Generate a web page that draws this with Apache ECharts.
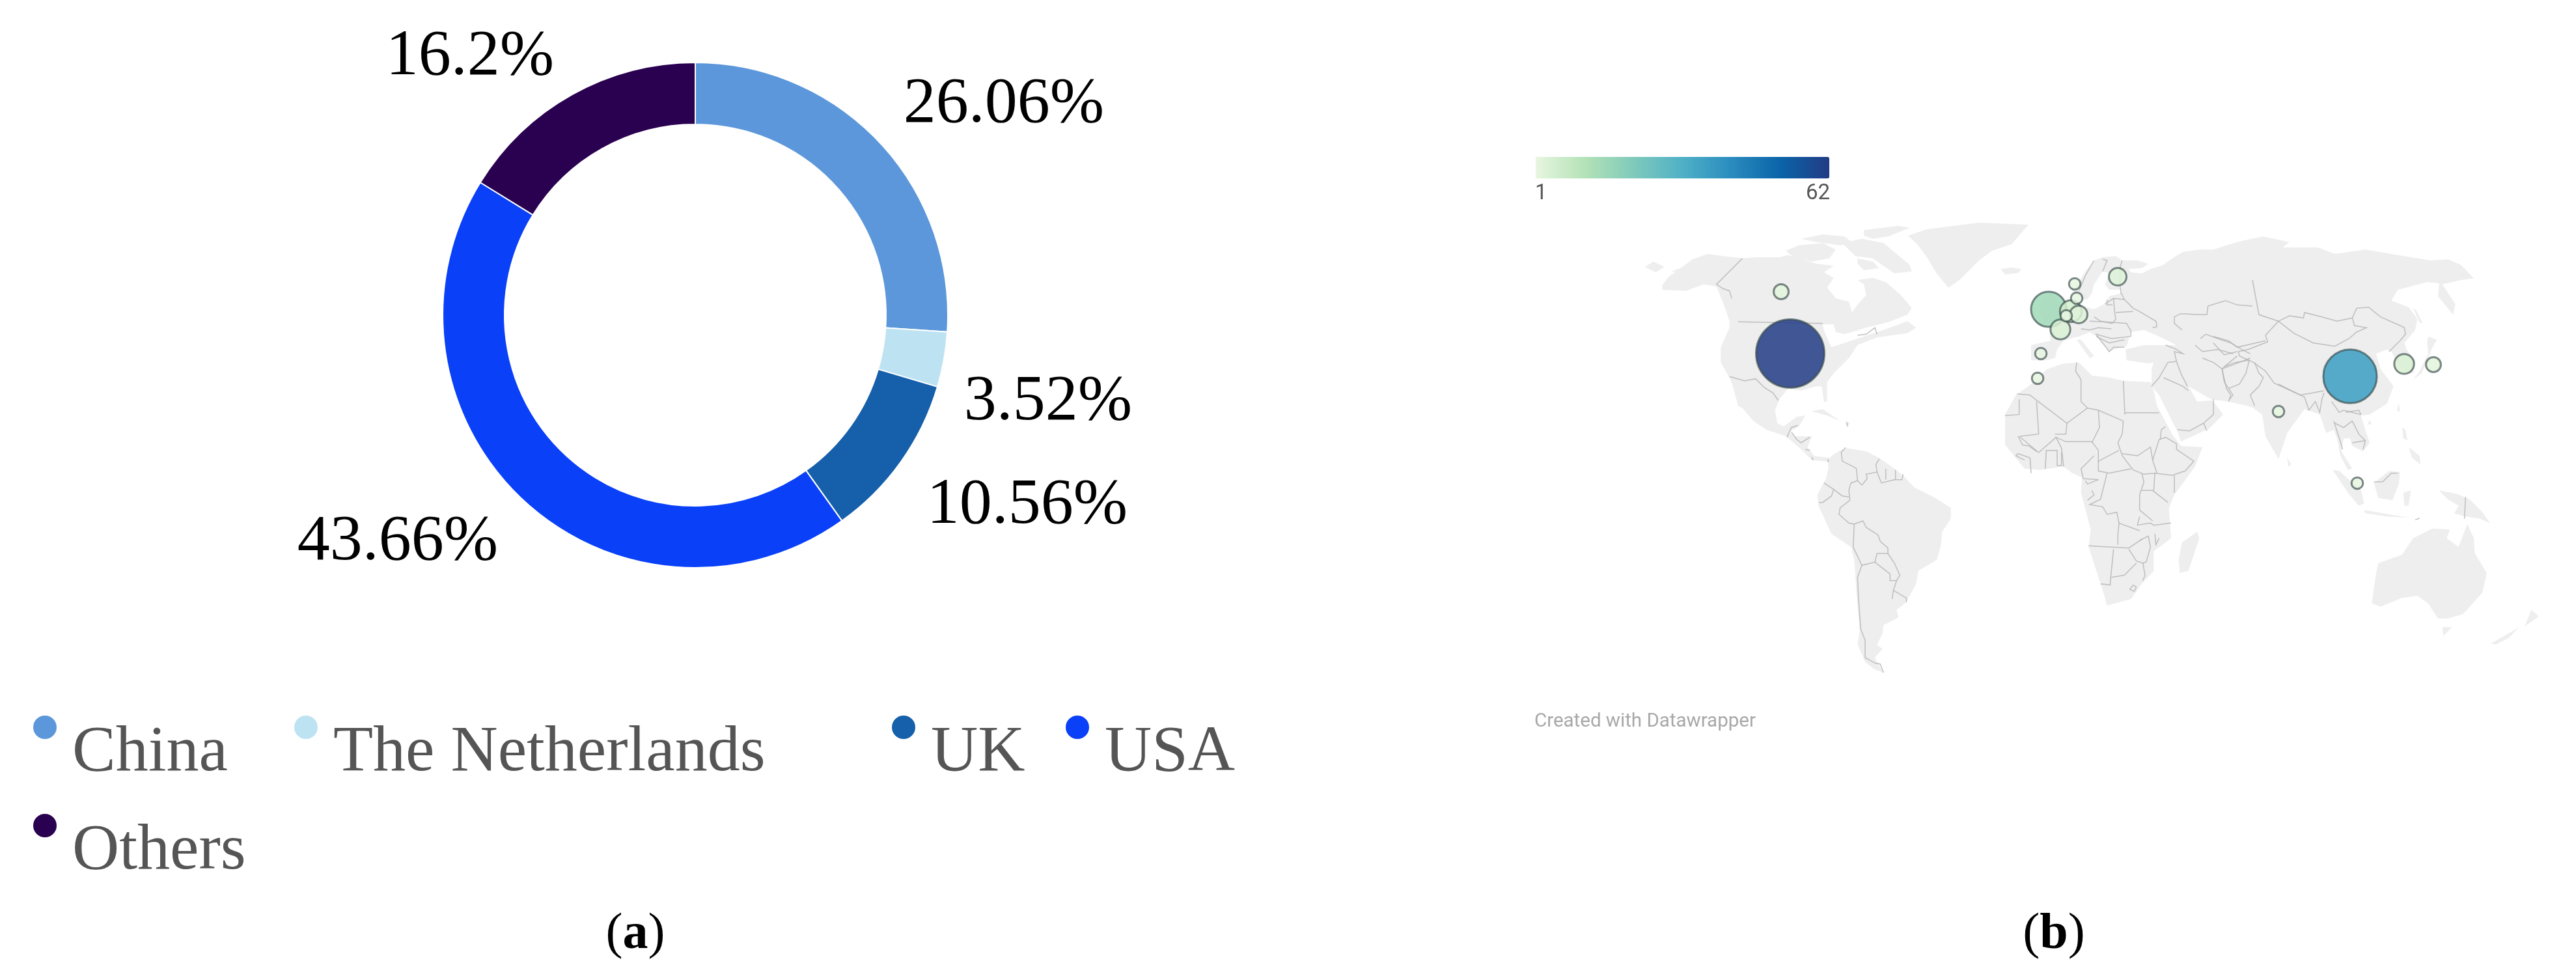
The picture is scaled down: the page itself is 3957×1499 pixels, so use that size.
<!DOCTYPE html>
<html>
<head>
<meta charset="utf-8">
<title>Publications by country</title>
<script src="https://cdn.jsdelivr.net/npm/echarts@6/dist/echarts.min.js"></script>
<style>html,body{margin:0;padding:0;background:#fff}#chart{width:3957px;height:1499px}</style>
</head>
<body>
<div id="chart"></div>
<script>
// ---------- donut data ----------
const countries = ['China', 'The Netherlands', 'UK', 'USA', 'Others'];
const shares = [26.06, 3.52, 10.56, 43.66, 16.2];
const shareColors = ['#5b97da', '#bde3f2', '#155fab', '#0a40f7', '#2a0050'];
// ---------- bubble data ----------
const bubbleNames = ['UK','Netherlands','Germany','France','Belgium','Denmark','Sweden','Finland','Spain','Morocco','Canada','USA','China','South Korea','Japan','India','Singapore'];
const bubbleCounts = [15,5,3,4,1,1,1,3,1,1,2,62,37,4,2,1,1];
const bubbleX = [3147,3181,3193,3165,3174,3190,3187,3253,3135,3130,2736,2750,3610,3693,3738,3500,3621];
const bubbleY = [475,478,483,506,485,458,436,425,543,581,448,543,578,559,560,632,742];
const colorStops = ['#e8f6e0','#b4e2b6','#7fcabb','#4fb0c6','#2a8cbe','#0a64a8','#223b85'];
const scaleTicks = ['1','62'];
// ---------- base map outlines ----------
const Z5=[2500,330],Z6=[2680,620],Z7=[3060,380],Z8=[3060,620],Z9=[3400,340],Z10=[3500,680],P=[0,0,1];
function tr(o,f){const s=o[2]||3,r=[];for(let i=0;i<f.length;i+=2)r.push([o[0]+f[i]/s,o[1]+f[i+1]/s]);return r;}
const northAmerica = tr(Z5,[160,325,190,285,260,235,300,205,370,180,440,190,530,200,600,195,700,195,740,185,800,205,870,225,950,235,905,265,950,290,920,335,960,385,1020,400,1035,450,1055,420,1100,370,1090,320,1060,300,1130,290,1190,310,1260,370,1310,430,1290,460,1200,495,1100,520,1000,550,960,540,950,505,900,505,905,530,930,590,940,610,1060,570,1180,530,1290,490,1330,520,1290,545,1150,565,1060,600,1020,660,950,730,920,770,920,860,905,860,895,790,870,790,800,810,740,800,700,850,680,900,690,960,720,975,780,930,820,925,790,975,745,1000,770,1020,850,1020,830,1070,860,1110,930,1120,960,1125,950,1140,900,1135,850,1130,800,1080,730,1020,640,990,580,950,530,890,470,750,430,680,430,610,470,520,470,490,450,430,410,330,350,320,270,350,160,345]);
const southAmerica = tr(Z6,[385,265,400,240,440,215,470,205,560,220,620,250,690,300,730,330,780,385,870,430,950,480,950,530,910,590,905,650,885,720,800,770,790,830,745,915,700,950,710,985,640,1020,635,1060,610,1110,635,1130,600,1170,610,1190,640,1240,600,1225,555,1190,520,1110,530,1050,515,870,505,720,490,660,400,600,340,470,335,420,375,345,385,300]);
const africa = tr(Z8,[60,50,110,-40,180,-90,255,-160,330,-185,400,-190,460,-130,540,-120,610,-105,730,-100,745,-60,760,10,830,140,870,195,970,200,935,290,840,420,815,480,825,620,745,680,745,770,690,830,640,900,530,930,510,860,445,660,455,580,410,410,415,340,370,320,330,290,220,305,150,300,60,190]);
const eurasia = [].concat(
  tr(Z7,[180,450,270,430,265,395,285,325,330,275,380,270,395,235,410,270,470,285,530,255,540,225,600,210,590,195,540,195,520,170,545,120,510,110,470,170,460,210,440,240,415,240,385,215,365,190,400,160,430,110,470,60,510,45,570,40,600,60,670,60,720,75,690,95,630,100,640,115,690,120,730,100,790,80,830,50,880,20,960,10]),
  tr(Z9,[0,130,60,110,130,90,230,70,350,95,320,120,480,120,560,150,700,130,850,155,1000,180,1080,175,1140,200,1200,262,1130,272,1055,290,1115,380,1105,430,1035,345,1040,285,985,280,850,315,820,365,900,395,940,450,930,500,880,560,890,590,930,640,920,700,880,700,840,640,820,600,800,590,750,610,770,680,830,760,800,840,720,890,680,895,700,960,720,1020,690,1060,640,1035,630,1000,600,1000,590,1060,640,1140,620,1145,585,1080,570,1000,555,960,520,975,490,890,420,865,340,975,300,1095,240,990,225,890,175,855,70,830,0,810]),
  tr(Z7,[1090,710,1010,700,950,665,905,640,945,710,1010,705,1020,710,1065,770,1000,835,870,895,855,850,770,680,735,640,735,560,745,530,720,535,620,520,615,470,700,450,800,450,850,450,770,410,700,380,640,390,620,455,560,470,540,480,480,410,450,390,400,410,380,415,330,430,300,470,290,510,250,520,180,520])
);
const caspian = tr(Z7,[880,385,925,378,905,415,945,490,950,530,905,520,875,460]);
const islands = [
  tr(P,[2931,362,2960,352,3040,342,3116,345,3090,375,3060,385,3040,400,3010,430,2993,442,2975,420,2960,395,2945,375]),
  tr(Z7,[40,100,90,92,135,100,120,118,60,125]),
  tr(Z7,[230,240,270,205,310,250,300,330,240,345,215,300]),
  tr(Z7,[390,425,410,425,470,500,450,510]),
  tr(Z5,[730,165,790,140,900,130,960,160,930,200,850,215,770,200]),
  tr(Z5,[800,110,900,90,1000,100,1040,130,980,140,870,125]),
  tr(Z5,[1090,70,1250,50,1300,60,1200,100,1130,110,1090,95]),
  tr(Z5,[990,130,1080,110,1180,130,1300,230,1310,260,1230,270,1130,200,1050,190]),
  tr(Z5,[1060,200,1130,215,1160,245,1090,255,1060,225]),
  tr(Z5,[80,240,120,215,170,240,130,265]),
  tr(Z5,[200,260,260,240,250,265]),
  tr(Z5,[480,770,500,770,530,890,510,880]),
  tr(Z5,[850,905,900,895,980,950,920,925]),
  tr(Z5,[1005,950,1025,960,1010,975]),
  tr(Z8,[875,640,945,590,955,620,905,770,865,780,860,720]),
  tr(Z9,[990,530,1030,545,1010,580,960,700,920,730,950,690,990,610,985,560]),
  tr(Z9,[920,400,935,410,965,470,950,465]),
  tr(Z9,[855,840,860,880,845,870]),
  tr(Z9,[870,950,885,960,895,1010,875,1000]),
  tr(Z9,[900,1040,950,1080,955,1120,915,1090]),
  tr(Z9,[340,1090,360,1120,345,1130]),
  tr(Z9,[720,915,730,935,710,935]),
  tr(Z10,[250,125,280,130,380,220,395,280,370,290,320,230]),
  tr(Z10,[395,310,480,325,600,345,500,340,400,325]),
  tr(Z10,[440,185,510,130,560,135,555,190,525,265,460,255]),
  tr(Z10,[575,230,610,220,600,290,580,290]),
  tr(Z10,[740,220,820,235,880,260,940,320,975,370,930,350,860,340,810,325,830,290,780,260]),
  tr(Z10,[430,740,450,600,460,555,570,515,620,440,710,395,790,400,775,440,830,480,870,375,900,440,905,510,960,600,940,690,850,790,780,810,735,810,690,740,640,705,570,715,470,755]),
  tr(Z10,[755,850,800,850,760,890]),
  tr(Z10,[980,925,1110,850,1060,900,1000,930]),
  tr(Z10,[1135,845,1165,770,1200,800])
];
const borders = [
  // North America
  tr(Z5,[510,493,900,500]),tr(Z5,[530,200,410,320,440,340,470,350,480,385]),tr(Z5,[1060,555,1100,550,1140,520,1150,550]),tr(Z5,[470,745,540,765,590,755,630,795,670,820,695,855]),
  // Central America
  tr(Z6,[195,155,215,110,245,100]),tr(Z6,[215,130,240,165,260,180,300,155]),tr(Z6,[280,210,300,215]),tr(Z6,[310,245,315,260]),tr(Z6,[385,255,385,270]),tr(Z6,[470,85,475,105]),
  // South America
  tr(Z6,[465,202,445,225,450,265,500,290,515,300,520,355,490,365,480,400,485,445]),tr(Z6,[520,355,540,375,565,345,560,325,610,315,605,280,620,255]),tr(Z6,[610,315,630,365,690,350,725,350,730,325]),tr(Z6,[650,350,650,300]),tr(Z6,[695,350,695,305]),tr(Z6,[365,365,410,395,450,425,480,430]),tr(Z6,[410,395,400,425,360,455,342,455]),tr(Z6,[485,445,440,480,435,510,480,550,505,555,545,540,560,570,615,605,625,635,660,665,660,690,610,690,600,730]),tr(Z6,[505,555,500,660,540,745,580,735,600,730,670,785,670,815,700,815,715,790,690,735,660,690]),tr(Z6,[700,815,685,860,680,900]),tr(Z6,[685,860,745,895,745,915]),tr(Z6,[540,745,520,800,525,900,535,1040,555,1090,555,1170,600,1195,625,1200,640,1240]),
  // North Africa and Arabia
  tr(Z7,[390,530,385,570,410,610,410,710,440,740]),tr(Z7,[605,615,612,770]),tr(Z7,[612,762,770,762]),tr(Z7,[440,740,345,810,200,700,175,680,115,675]),tr(Z7,[345,810,340,860,290,860]),tr(Z7,[440,740,490,750,605,800]),tr(Z7,[490,750,495,830,460,900]),tr(Z7,[205,710,215,860,130,870]),tr(Z7,[125,700,125,770,60,775]),
  tr(Z7,[735,640,770,600,810,530,850,525]),tr(Z7,[790,600,880,640,905,660]),tr(Z7,[850,525,870,580,900,640]),tr(Z7,[1020,700,1020,770,975,810,910,845,855,840]),tr(Z7,[975,810,990,845]),
  tr(Z7,[800,450,850,470,880,490,840,480,850,525]),tr(Z7,[970,510,1020,530,1060,560,1070,620,1090,650,1110,680,1095,700]),tr(Z7,[1060,560,1190,510]),tr(Z7,[935,450,970,480,1040,470,1110,490]),tr(Z7,[960,420,985,400,1040,420,1100,440,1150,470,1190,490]),
  // Central and southern Africa
  tr(Z8,[605,80,600,140,580,180,600,240,650,305,700,325,750,320,830,330,890,310,930,265,850,210,850,185,800,155,770,165,740,260,760,320]),tr(Z8,[775,165,780,120,800,105]),tr(Z8,[600,230,670,240,730,200,740,260]),tr(Z8,[460,175,490,215,490,265,585,215]),tr(Z8,[490,265,490,310,540,320,640,300]),tr(Z8,[460,175,340,175,295,155,320,205,330,290]),tr(Z8,[295,155,215,225,125,150]),tr(Z8,[205,220,170,195,140,190,120,150]),tr(Z8,[180,320,175,250,120,230,110,240,150,260]),tr(Z8,[245,300,250,215,300,215,300,285,320,285,320,225]),tr(Z8,[470,240,410,300,420,345,490,350]),tr(Z8,[530,320,500,440,450,465,510,475,530,510,575,500,585,550,680,585]),tr(Z8,[430,355,440,370,490,350]),tr(Z8,[440,445,470,420,460,400]),tr(Z8,[690,320,700,360,680,420,680,490,740,540]),tr(Z8,[690,400,740,400,810,455]),tr(Z8,[750,320,745,400]),tr(Z8,[840,330,840,410]),tr(Z8,[585,550,580,600,580,650]),tr(Z8,[445,655,630,665,690,625]),tr(Z8,[680,520,670,560,730,550,745,560,825,550]),tr(Z8,[680,630,720,610,730,660,710,730]),tr(Z8,[630,670,665,725,695,735,710,730]),tr(Z8,[560,670,545,820,545,835,500,830]),tr(Z8,[665,735,610,790,550,800]),tr(Z8,[695,735,705,790,695,815]),tr(Z8,[750,600,755,650,770,620]),tr(Z8,[650,835,635,855,655,865,665,845,650,835]),
  // Europe
  tr(Z7,[520,260,560,235,610,240,650,280,670,290,755,340,760,365,740,370]),tr(Z7,[560,235,565,300,570,330,555,350]),tr(Z7,[570,300,650,295]),tr(Z7,[530,240,530,265,555,265]),tr(Z7,[595,210,610,240]),tr(Z7,[600,60,590,90,590,180,595,215]),tr(Z7,[510,55,530,60,510,110]),tr(Z7,[400,200,430,130,470,60]),tr(Z7,[450,340,555,345,620,350,640,385,640,410,550,420,480,400,540,480,560,460,610,460]),tr(Z7,[470,320,500,340,555,350]),tr(Z7,[410,375,450,380,490,370,550,375]),tr(Z7,[480,410,540,440,610,425]),
  // Central and East Asia
  tr(Z7,[875,380,840,350,840,320,870,305,960,310,990,310,995,270,1075,245,1130,265,1200,270]),tr(Z9,[180,270,210,430,300,460]),tr(Z9,[300,460,350,435,415,445,420,420,500,440,570,460,640,445,660,400,715,395,770,440,860,480,880,490,885,520,860,550,810,600]),tr(Z9,[300,460,370,515,460,560,560,575,625,540,660,510,705,490,650,480,640,445]),tr(Z9,[300,460,240,525,250,555,160,590,115,600,120,620,185,650,240,690,280,745,400,800,460,790,510,780]),tr(Z9,[545,830,580,880,600,870,680,890]),tr(Z9,[0,530,70,550,110,580,240,550]),tr(Z9,[0,560,50,615,110,600]),tr(Z9,[110,620,50,670,40,680,60,770,80,800,70,830]),tr(Z9,[50,670,100,650,165,640,150,700,120,750,70,770]),tr(Z9,[190,650,210,700,230,720,210,760,170,800,190,850]),tr(Z9,[300,750,400,800,420,810,440,870,470,830,490,880,500,820,510,790]),tr(Z9,[560,930,600,950,640,920,670,980,700,1010,690,1050]),tr(Z9,[555,920,590,1030,595,1050]),tr(Z9,[640,1020,700,1010]),tr(Z9,[610,880,670,870,680,890]),
  // South East Asia
  tr(Z10,[440,180,480,180,520,140,550,140]),tr(Z10,[862,250,857,350]),tr(Z10,[630,355,650,348])
];
// ---------- layout, kept away from the data ----------
const shareLabelPos = [[1542,161],[1610,618],[1578,777],[611,833],[722,88]];
const legendPos = [[49,1097],[450,1097],[1368,1097],[1635,1097],[49,1248]];
// A circle at the top of a taller icon box, so the dot sits above the text's middle.
const raisedDot = 'path://M0 19A19 19 0 1 1 38 19A19 19 0 1 1 0 19ZM19 118L19 118Z';

const land = [northAmerica, southAmerica, africa].concat(islands).map(r => [r]);
land.push([eurasia, caspian]);
const features = land.map((rings, i) => ({type:'Feature', properties:{name:'land'+i}, geometry:{type:'Polygon', coordinates:rings}}));
echarts.registerMap('traced', {type:'FeatureCollection', features});
const allPts = land.flat(2);
const minX = Math.min(...allPts.map(p=>p[0])), maxX = Math.max(...allPts.map(p=>p[0]));
const minY = Math.min(...allPts.map(p=>p[1])), maxY = Math.max(...allPts.map(p=>p[1]));

const serif = '"Liberation Serif","Times New Roman",serif';
const sans = 'Roboto,sans-serif';
const bubbleSize = v => 100*Math.sqrt(v/62)+5;

const chart = echarts.init(document.getElementById('chart'), null, {renderer:'canvas'});
chart.setOption({
  animation:false,
  backgroundColor:'#fff',
  title:[
    {text:'({b|a})',left:976,top:1397,textAlign:'center',padding:0,textStyle:{fontFamily:serif,fontSize:78,fontWeight:'normal',color:'#000',rich:{b:{fontFamily:serif,fontSize:78,fontWeight:'bold',color:'#000'}}}},
    {text:'({b|b})',left:3155,top:1397,textAlign:'center',padding:0,textStyle:{fontFamily:serif,fontSize:78,fontWeight:'normal',color:'#000',rich:{b:{fontFamily:serif,fontSize:78,fontWeight:'bold',color:'#000'}}}},
    {text:scaleTicks[0],left:2358,top:281,padding:0,textStyle:{fontFamily:sans,fontSize:33,fontWeight:'normal',color:'#555'}},
    {text:scaleTicks[1],left:2811,top:281,textAlign:'right',padding:0,textStyle:{fontFamily:sans,fontSize:33,fontWeight:'normal',color:'#555'}},
    {text:'Created with Datawrapper',left:2357,top:1094,padding:0,textStyle:{fontFamily:sans,fontSize:29.5,fontWeight:'normal',color:'#a8a8a8'}}
  ],
  legend:countries.map((c,i)=>({
    data:[c],left:legendPos[i][0],top:legendPos[i][1],padding:0,orient:'horizontal',
    icon:raisedDot,itemWidth:38,itemHeight:118,selectedMode:false,
    textStyle:{fontFamily:serif,fontSize:100,color:'#555',padding:[0,0,0,18]}
  })),
  visualMap:{
    type:'continuous',seriesIndex:2,dimension:2,min:1,max:62,orient:'horizontal',
    left:2359,top:241,itemWidth:33,itemHeight:451,padding:0,calculable:false,hoverLink:false,
    text:null,inRange:{color:colorStops},realtime:false
  },
  geo:{
    map:'traced',roam:false,silent:true,
    projection:{project:p=>p,unproject:p=>p},
    left:minX,top:minY,width:maxX-minX,height:maxY-minY,
    label:{show:false},
    itemStyle:{areaColor:'#eeeeee',borderWidth:0,borderColor:'#eeeeee'},
    emphasis:{disabled:true}
  },
  series:[
    {
      type:'pie',center:[1068,484],radius:[293,388],startAngle:90,clockwise:true,
      avoidLabelOverlap:false,silent:true,
      itemStyle:{borderColor:'#fff',borderWidth:2},
      label:{show:true,position:'outside',formatter:p=>p.value+'%',fontFamily:serif,fontSize:100,color:'#000'},
      labelLine:{show:false},
      labelLayout:p=>({x:shareLabelPos[p.dataIndex][0],y:shareLabelPos[p.dataIndex][1],align:'center',verticalAlign:'middle'}),
      data:countries.map((c,i)=>({name:c,value:shares[i],itemStyle:{color:shareColors[i]}}))
    },
    {
      type:'lines',coordinateSystem:'geo',polyline:true,silent:true,z:3,
      lineStyle:{color:'#b2b2b2',width:1.5,opacity:0.8},
      data:borders.map(b=>({coords:b}))
    },
    {
      type:'scatter',coordinateSystem:'geo',silent:true,z:5,
      symbol:'circle',symbolSize:v=>bubbleSize(v[2]),
      itemStyle:{opacity:0.85,borderColor:'rgba(50,70,70,0.75)',borderWidth:3},
      data:bubbleNames.map((n,i)=>({name:n,value:[bubbleX[i],bubbleY[i],bubbleCounts[i]]}))
    }
  ]
});
</script>
</body>
</html>
